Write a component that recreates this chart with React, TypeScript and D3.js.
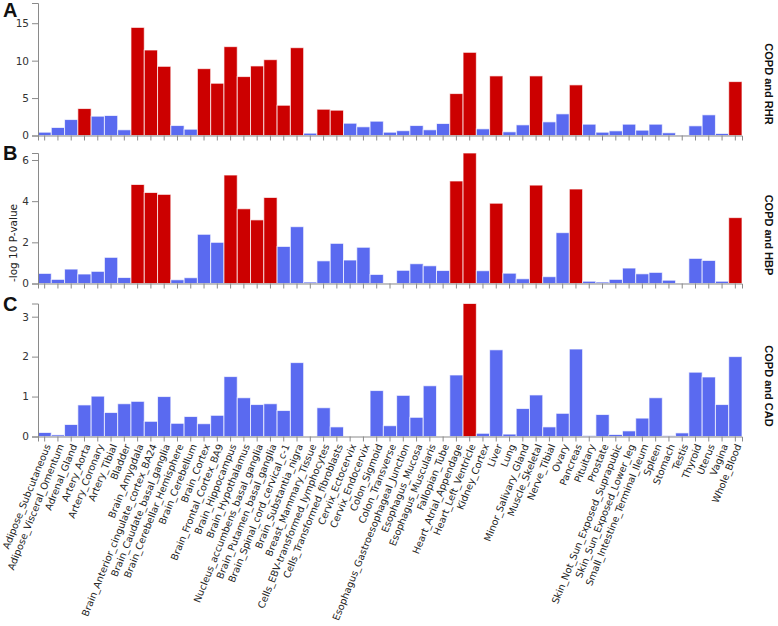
import React, { useEffect, useRef } from "react";
import * as d3 from "d3";

const tissues = [
  "Adipose_Subcutaneous", "Adipose_Visceral_Omentum", "Adrenal_Gland", "Artery_Aorta",
  "Artery_Coronary", "Artery_Tibial", "Bladder", "Brain_Amygdala",
  "Brain_Anterior_cingulate_cortex_BA24", "Brain_Caudate_basal_ganglia",
  "Brain_Cerebellar_Hemisphere", "Brain_Cerebellum", "Brain_Cortex", "Brain_Frontal_Cortex_BA9",
  "Brain_Hippocampus", "Brain_Hypothalamus", "Nucleus_accumbens_basal_ganglia",
  "Brain_Putamen_basal_ganglia", "Brain_Spinal_cord_cervical_c-1", "Brain_Substantia_nigra",
  "Breast_Mammary_Tissue", "Cells_EBV-transformed_lymphocytes", "Cells_Transformed_fibroblasts",
  "Cervix_Ectocervix", "Cervix_Endocervix", "Colon_Sigmoid", "Colon_Transverse",
  "Esophagus_Gastroesophageal_Junction", "Esophagus_Mucosa", "Esophagus_Muscularis",
  "Fallopian_Tube", "Heart_Atrial_Appendage", "Heart_Left_Ventricle", "Kidney_Cortex", "Liver",
  "Lung", "Minor_Salivary_Gland", "Muscle_Skeletal", "Nerve_Tibial", "Ovary", "Pancreas",
  "Pituitary", "Prostate", "Skin_Not_Sun_Exposed_Suprapubic", "Skin_Sun_Exposed_Lower_leg",
  "Small_Intestine_Terminal_Ileum", "Spleen", "Stomach", "Testis", "Thyroid", "Uterus",
  "Vagina", "Whole_Blood",
];

const rhrValues = [
  0.44, 1.07, 2.13, 3.6, 2.58, 2.67, 0.76, 14.44, 11.42, 9.24, 1.33, 0.84, 8.93, 6.98, 11.87,
  7.87, 9.29, 10.13, 4.04, 11.73, 0.31, 3.51, 3.38, 1.64, 1.16, 1.91, 0.44, 0.64, 1.33, 0.76,
  1.6, 5.6, 11.11, 0.89, 7.96, 0.49, 1.42, 7.96, 1.82, 2.89, 6.76, 1.51, 0.44, 0.62, 1.51,
  0.71, 1.51, 0.36, 0.05, 1.29, 2.76, 0.27, 7.2,
];

const hbpValues = [
  0.49, 0.2, 0.7, 0.46, 0.59, 1.27, 0.29, 4.81, 4.42, 4.33, 0.18, 0.28, 2.39, 2.0, 5.27,
  3.63, 3.09, 4.18, 1.8, 2.76, 0.07, 1.1, 1.95, 1.14, 1.76, 0.44, 0.01, 0.64, 0.96, 0.86,
  0.63, 4.98, 6.34, 0.62, 3.9, 0.5, 0.23, 4.78, 0.33, 2.47, 4.59, 0.11, 0.07, 0.2, 0.75,
  0.47, 0.54, 0.16, 0.01, 1.22, 1.12, 0.11, 3.2,
];

const cadValues = [
  0.1, 0.04, 0.3, 0.79, 1.01, 0.6, 0.82, 0.88, 0.38, 1.0, 0.33, 0.5, 0.32, 0.53, 1.5, 0.97,
  0.8, 0.82, 0.65, 1.85, 0, 0.72, 0.24, 0, 0, 1.15, 0.27, 1.03, 0.48, 1.27, 0, 1.54, 3.33,
  0.08, 2.17, 0.06, 0.7, 1.04, 0.24, 0.58, 2.19, 0.025, 0.55, 0.05, 0.14, 0.46, 0.97, 0.02,
  0.09, 1.61, 1.49, 0.8, 2.0,
];

const panelLetters = ["A", "B", "C"];
const panelTitles = ["COPD and RHR", "COPD and HBP", "COPD and CAD"];
const panelTicks = [[0, 5, 10, 15], [0, 2, 4, 6], [0, 1, 2, 3]];
const panelMax = [17.7, 6.34, 3.33];
const yTitle = "-log 10 P-value";

// Bonferroni threshold over 53 tissues
const threshold = -Math.log10(0.05 / tissues.length);

const W = 778;
const H = 626;
const X0 = 38;
const X1 = 742;
const layout = [
  { top: 3, base: 135.5, titleY: 84 },
  { top: 153, base: 283.5, titleY: 235 },
  { top: 303.5, base: 436.5, titleY: 386 },
];
const BLUE = "#5a6af0";
const RED = "#cc0000";
const AXIS = "#8a8a8a";
const FONT = "'DejaVu Sans', sans-serif";

export default function App() {
  const ref = useRef<SVGSVGElement>(null);

  useEffect(() => {
    const svg = d3.select(ref.current);
    svg.selectAll("*").remove();
    const series = [rhrValues, hbpValues, cadValues];

    const x = d3.scaleBand<string>().domain(tissues).range([X0, X1]).padding(0);

    series.forEach((vals, p) => {
      const L = layout[p];
      const y = d3.scaleLinear().domain([0, panelMax[p]]).range([L.base, L.top]);
      const g = svg.append("g");

      g.selectAll("rect")
        .data(vals)
        .join("rect")
        .attr("x", (_d, i) => x(tissues[i]) as number)
        .attr("width", x.bandwidth())
        .attr("y", (d) => y(d))
        .attr("height", (d) => L.base - y(d))
        .attr("fill", (d) => (d > threshold ? RED : BLUE))
        .attr("stroke", "#ffffff")
        .attr("stroke-opacity", 0.7)
        .attr("stroke-width", 1);

      const ya = g
        .append("g")
        .attr("transform", `translate(${X0},0)`)
        .call(d3.axisLeft(y).tickValues(panelTicks[p]).tickSize(6).tickSizeOuter(6).tickFormat(d3.format("d")));
      ya.select(".domain").attr("stroke", AXIS);
      ya.selectAll(".tick line").attr("stroke", AXIS);
      ya.selectAll(".tick text")
        .attr("fill", "#333")
        .attr("x", -9)
        .style("font-family", FONT)
        .style("font-size", "10.5px");

      const xa = g
        .append("g")
        .attr("transform", `translate(0,${L.base})`)
        .call(d3.axisBottom(x).tickSize(5).tickSizeOuter(5).tickFormat(() => ""));
      xa.select(".domain").attr("stroke", AXIS);
      xa.selectAll(".tick line").attr("stroke", AXIS);
      xa.selectAll(".tick text").remove();

      if (p === 2) {
        g.append("g")
          .selectAll("text")
          .data(tissues)
          .join("text")
          .attr("transform", (d) => `translate(${(x(d) as number) + x.bandwidth() / 2 + 3},${L.base + 8}) rotate(-68)`)
          .attr("text-anchor", "end")
          .attr("dy", "0.35em")
          .attr("fill", "#222")
          .style("font-family", FONT)
          .style("font-size", "9.7px")
          .text((d) => d);
      }

      svg.append("text")
        .attr("x", 3)
        .attr("y", L.top + (p === 0 ? 14 : 7))
        .attr("fill", "#111")
        .style("font-family", "'Liberation Sans', Arial, sans-serif")
        .style("font-weight", "bold")
        .style("font-size", "20px")
        .text(panelLetters[p]);

      svg.append("text")
        .attr("transform", `translate(769,${L.titleY}) rotate(90)`)
        .attr("text-anchor", "middle")
        .attr("dy", "0.35em")
        .attr("fill", "#111")
        .style("font-family", "'Liberation Sans', Arial, sans-serif")
        .style("font-weight", "bold")
        .style("font-size", "11px")
        .text(panelTitles[p]);
    });

    svg.append("text")
      .attr("transform", `translate(13,243) rotate(-90)`)
      .attr("text-anchor", "middle")
      .attr("dy", "0.35em")
      .attr("fill", "#222")
      .style("font-family", FONT)
      .style("font-size", "10.5px")
      .text(yTitle);
  }, []);

  return (
    <svg
      ref={ref}
      width={W}
      height={H}
      style={{ position: "absolute", left: 0, top: 0, background: "#fff" }}
    />
  );
}
